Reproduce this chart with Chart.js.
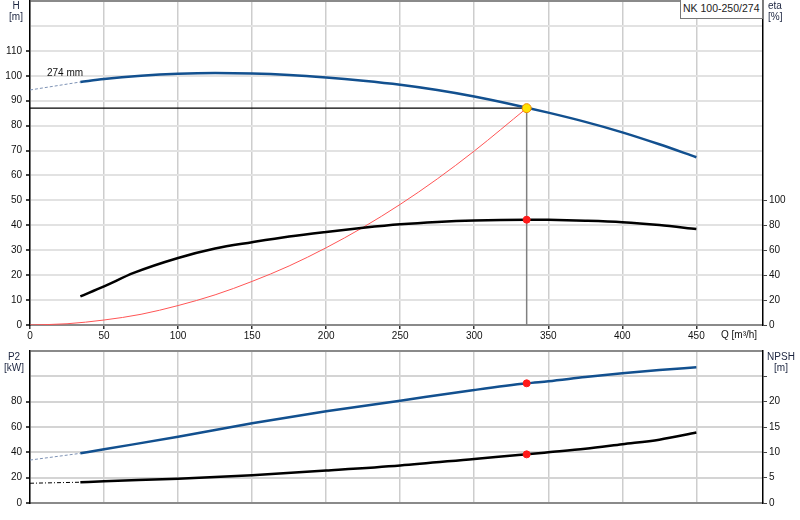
<!DOCTYPE html>
<html>
<head>
<meta charset="utf-8">
<script src="https://cdn.jsdelivr.net/npm/chart.js@4"></script>
<style>
  html, body { margin: 0; padding: 0; background: #fff; }
  body { width: 800px; height: 520px; position: relative; overflow: hidden;
         font-family: 'Liberation Sans', Arial, sans-serif; font-size: 10px; color: #111; }
  canvas { position: absolute; left: 0; }
  #c-top { top: 0; }
  #c-bot { top: 345px; }
  .lbl { position: absolute; line-height: 11px; white-space: nowrap; color: #1c2540; }
  .mid { text-align: center; width: 32px; }
  #tag { position: absolute; left: 680px; top: 0; width: 81px; height: 18px;
         border: 1px solid #777; border-top: none; background: #fff;
         font-size: 10.5px; line-height: 17px; text-indent: 2px; color: #222; }
</style>
</head>
<body>
<canvas id="c-top" width="800" height="345"></canvas>
<canvas id="c-bot" width="800" height="175"></canvas>

<div class="lbl mid" style="left:0;top:0">H<br>[m]</div>
<div class="lbl" style="left:768px;top:0">eta<br>[%]</div>
<div class="lbl" style="left:721px;top:329px;color:#111">Q [m³/h]</div>
<div class="lbl mid" style="left:-2px;top:351px">P2<br>[kW]</div>
<div class="lbl mid" style="left:765px;top:351px">NPSH<br>[m]</div>
<div class="lbl" style="left:47px;top:67px;color:#111">274 mm</div>
<div id="tag">NK 100-250/274</div>

<script>
/* Pump curve NK 100-250/274: H / eta on top, P2 / NPSH below. */

const Q_MAX = 495;
const Q_TICKS = [0, 50, 100, 150, 200, 250, 300, 350, 400, 450];
const ETA_TICKS = [0, 20, 40, 60, 80, 100];

// duty point
const DUTY_Q = 335.4;
const DUTY_H = 87.0;
const DUTY_ETA = 84.5;
const DUTY_P2 = 94.5;
const DUTY_NPSH = 9.6;

// head, 274 mm impeller
const H_Q   = [34, 50, 75, 100, 125, 150, 175, 200, 225, 250, 275, 300, 325, 350, 375, 400, 425, 450];
const H_VAL = [97.5, 98.7, 100.0, 100.8, 101.1, 100.9, 100.3, 99.3, 98.0, 96.4, 94.3, 91.7, 88.6, 85.2, 81.5, 77.3, 72.5, 67.3];
const H_EXT_Q = [0, 34];
const H_EXT   = [94.3, 97.5];

// efficiency
const ETA_Q = [34, 50, 70, 100, 125, 150, 175, 200, 225, 250, 275, 300, 335, 350, 375, 400, 425, 450];
const ETA   = [23, 31, 41.8, 53.8, 61.4, 66.4, 71, 74.7, 78, 80.8, 82.7, 83.9, 84.5, 84.4, 83.7, 82.5, 80.2, 77];

// system curve
const SYS_Q = [0, 25, 50, 75, 100, 125, 150, 175, 200, 225, 250, 275, 300, 335.4];
const SYS_H = [0, 0.5, 2.0, 4.3, 7.8, 12.1, 17.5, 23.7, 31.0, 39.2, 48.4, 58.6, 69.8, 87.0];

// shaft power
const P2_Q = [34, 50, 100, 150, 200, 250, 300, 335.4, 350, 375, 400, 425, 450];
const P2   = [39.2, 42.4, 52.3, 62.9, 72.4, 80.8, 89.2, 94.5, 96.1, 99.4, 102.4, 105.0, 107.1];
const P2_EXT_Q = [0, 34];
const P2_EXT   = [33.9, 39.2];

// NPSH
const NPSH_Q = [34, 50, 100, 150, 200, 250, 300, 335.4, 350, 375, 400, 425, 450];
const NPSH   = [4.1, 4.3, 4.8, 5.5, 6.4, 7.4, 8.7, 9.6, 10.0, 10.7, 11.6, 12.5, 13.9];
const NPSH_EXT_Q = [0, 34];
const NPSH_EXT   = [3.9, 4.1];

const BLUE = '#12508f';
const font = { family: "'Liberation Sans', Arial, sans-serif", size: 10 };
const pts = (xs, ys) => xs.map((x, i) => ({ x, y: ys[i] }));

const curve = (data, color, axis, width = 2.5) => ({
  data, yAxisID: axis, borderColor: color, borderWidth: width,
  pointRadius: 0, cubicInterpolationMode: 'monotone', fill: false,
});
const dashed = (data, color, axis, dash = [3, 2]) => ({
  data, yAxisID: axis, borderColor: color, borderWidth: 1, borderDash: dash,
  pointRadius: 0, fill: false,
});
const dot = (data, axis, bg, border, r = 3.5) => ({
  data, yAxisID: axis, showLine: false, pointRadius: r, pointHoverRadius: r,
  pointBackgroundColor: bg, pointBorderColor: border, pointBorderWidth: 1,
});

// fixed axis sizes so both panels share the same plot box
const fixW = w => s => { s.width = w; s.paddingTop = 0; s.paddingBottom = 0; };
const fixH = h => s => { s.height = h; s.paddingLeft = 0; s.paddingRight = 0; };

// only the upper panel carries Q labels and tick marks
const xAxis = (showLabels, h) => ({
  type: 'linear', min: 0, max: Q_MAX,
  afterBuildTicks: s => { s.ticks = Q_TICKS.map(v => ({ value: v })); },
  afterFit: fixH(h),
  ticks: { display: showLabels, font, color: '#111', padding: 1, maxRotation: 0, autoSkip: false },
  grid: { color: '#cdcdcd', lineWidth: 1.5, drawTicks: showLabels, tickLength: 4, tickColor: '#333' },
  border: { color: '#8a8a8a', width: 2 },
});

const leftAxis = (max, step, lastLabel, gridColor) => ({
  position: 'left', min: 0, max,
  afterFit: fixW(30),
  ticks: { stepSize: step, font, color: '#111', padding: 4,
           callback: v => (v <= lastLabel ? v : '') },
  grid: {
    color: c => (c.tick && c.tick.value === max ? '#8a8a8a' : gridColor),
    lineWidth: 2, tickLength: 4,
    tickColor: c => (c.tick && c.tick.value <= lastLabel ? '#444' : 'rgba(0,0,0,0)'),
  },
  border: { color: '#000', width: 1.5 },
});

const common = {
  type: 'line',
  options: {
    responsive: false, animation: false, devicePixelRatio: 1,
    plugins: { legend: { display: false }, tooltip: { enabled: false } },
    events: [],
  },
};

new Chart(document.getElementById('c-top'), {
  ...common,
  data: {
    datasets: [
      dot([{ x: DUTY_Q, y: DUTY_H }], 'yH', '#ffe200', '#f08a00', 4.5),
      dot([{ x: DUTY_Q, y: DUTY_ETA }], 'yEta', '#ff1a1a', '#ff1a1a'),
      curve(pts(H_Q, H_VAL), BLUE, 'yH'),
      dashed(pts(H_EXT_Q, H_EXT), '#7d92b5', 'yH'),
      curve(pts(ETA_Q, ETA), '#000', 'yEta'),
      curve(pts(SYS_Q, SYS_H), '#ff5555', 'yH', 1),
      { data: [{ x: 0, y: DUTY_H }, { x: DUTY_Q, y: DUTY_H }], yAxisID: 'yH',
        borderColor: '#000', borderWidth: 1.2, pointRadius: 0 },
      { data: [{ x: DUTY_Q, y: DUTY_H }, { x: DUTY_Q, y: 0 }], yAxisID: 'yH',
        borderColor: '#808080', borderWidth: 1.5, pointRadius: 0 },
    ],
  },
  options: {
    ...common.options,
    layout: { autoPadding: false, padding: { top: 1, left: 0, right: 0, bottom: 0 } },
    scales: {
      x: xAxis(true, 20),
      yH: leftAxis(130, 10, 110, '#e2e2e2'),
      yEta: {
        position: 'right', min: 0, max: 260,
        afterBuildTicks: s => { s.ticks = ETA_TICKS.map(v => ({ value: v })); },
        afterFit: fixW(37),
        ticks: { font, color: '#111', padding: 2 },
        grid: { drawOnChartArea: false, tickLength: 4, tickColor: '#444' },
        border: { color: '#000', width: 1.5 },
      },
    },
  },
});

new Chart(document.getElementById('c-bot'), {
  ...common,
  data: {
    datasets: [
      dot([{ x: DUTY_Q, y: DUTY_P2 }], 'yP', '#ff1a1a', '#ff1a1a'),
      dot([{ x: DUTY_Q, y: DUTY_NPSH }], 'yN', '#ff1a1a', '#ff1a1a'),
      curve(pts(P2_Q, P2), BLUE, 'yP'),
      dashed(pts(P2_EXT_Q, P2_EXT), '#7d92b5', 'yP'),
      curve(pts(NPSH_Q, NPSH), '#000', 'yN'),
      dashed(pts(NPSH_EXT_Q, NPSH_EXT), '#000', 'yN', [4, 2, 1, 2]),
    ],
  },
  options: {
    ...common.options,
    layout: { autoPadding: false, padding: { top: 6, left: 0, right: 0, bottom: 0 } },
    scales: {
      x: xAxis(false, 17),
      yP: leftAxis(120, 20, 80, '#d4d4d4'),
      yN: {
        position: 'right', min: 0, max: 30,
        afterFit: fixW(37),
        ticks: { stepSize: 5, font, color: '#111', padding: 2,
                 callback: v => (v <= 20 ? v : '') },
        grid: { drawOnChartArea: false, tickLength: 4,
                tickColor: c => (c.tick && c.tick.value <= 25 ? '#444' : 'rgba(0,0,0,0)') },
        border: { color: '#000', width: 1.5 },
      },
    },
  },
});
</script>
</body>
</html>
